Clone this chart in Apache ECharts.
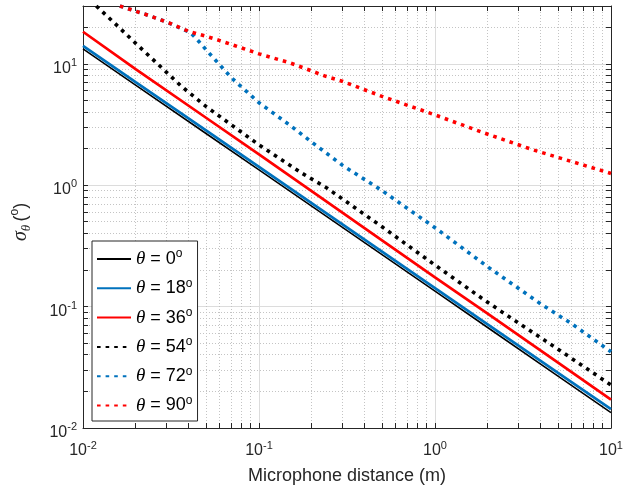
<!DOCTYPE html>
<html><head><meta charset="utf-8">
<script src="https://cdn.jsdelivr.net/npm/echarts@6/dist/echarts.min.js"></script>
<style>html,body{margin:0;padding:0;background:#fff}#c{width:623px;height:489px}</style>
</head><body><div id="c"></div>
<script>
// ---- data ----
const dist = [0.01, 0.02, 0.05, 0.1, 0.2, 0.5, 1, 2, 5, 10];
const sigma0 = [13.3, 6.65, 2.67, 1.34, 0.67, 0.268, 0.134, 0.067, 0.0268, 0.0134];
const sigma18 = [14.1, 7.05, 2.83, 1.42, 0.71, 0.284, 0.142, 0.071, 0.0284, 0.0143];
const sigma36 = [18.4, 9.0, 3.6, 1.8, 0.89, 0.352, 0.174, 0.087, 0.0346, 0.0171];
const dist54 = [0.0119, 0.015, 0.02, 0.0364, 0.05, 0.1, 0.175, 0.243, 0.5, 1, 2, 5, 10];
const sigma54 = [30, 21.9, 14.7, 6.5, 4.46, 2.15, 1.26, 0.95, 0.455, 0.22, 0.108, 0.0446, 0.0226];
const dist72 = [0.0162, 0.023, 0.03, 0.041, 0.045, 0.05, 0.07, 0.1, 0.15, 0.2, 0.3, 0.5, 0.7, 1, 2, 4, 6, 10];
const sigma72 = [30, 25.4, 22.1, 18.0, 15.6, 13.1, 7.64, 4.79, 3.12, 2.26, 1.45, 0.905, 0.641, 0.447, 0.212, 0.105, 0.072, 0.0425];
const dist90 = [0.0162, 0.023, 0.031, 0.04, 0.05, 0.063, 0.1, 0.15, 0.24, 0.3, 0.5, 1, 1.9, 3.6, 10];
const sigma90 = [30, 25.4, 21.7, 18.5, 16.9, 15.2, 12.1, 10.2, 7.9, 7.16, 5.4, 3.8, 2.7, 1.96, 1.25];
const thetaDeg = [0, 18, 36, 54, 72, 90];
const xRange = [0.01, 10];
const yRange = [0.01, 30];
const xDecades = [0.01, 0.1, 1];
const yDecades = [0.01, 0.1, 1, 10];

// ---- styling ----
const AX = '#262626';
const BLUE = '#0072BD', RED = '#FF0000', BLACK = '#000000';
const SANS = '"Liberation Sans", Arial, Helvetica, sans-serif';
const SERIF = '"Liberation Serif", "Times New Roman", serif';

function pow10(v) {
  const e = Math.round(Math.log10(v));
  if (Math.abs(Math.log10(v) - e) > 1e-6) return '';
  return '{b|10}{e|' + e + '}';
}
const tickRich = {
  b: {fontFamily: SANS, fontSize: 16, color: AX, lineHeight: 22},
  e: {fontFamily: SANS, fontSize: 11, color: AX, lineHeight: 13, verticalAlign: 'top'}
};

const xMinor = [];
xDecades.forEach(d => { for (let k = 2; k <= 9; k++) xMinor.push(k * d); });
const yMinor = [];
yDecades.forEach(d => { for (let k = 2; k <= 9; k++) if (k * d < yRange[1]) yMinor.push(k * d); });

function snap(p) { return Math.round(p - 0.5) + 0.5; }
function minorX(params, api) {
  const cs = params.coordSys;
  const px = snap(api.coord([api.value(0), 1])[0]);
  const y0 = cs.y, y1 = cs.y + cs.height;
  return {type: 'group', children: [
    {type: 'line', shape: {x1: px, y1: y0, x2: px, y2: y1}, style: {stroke: '#c4c4c4', lineWidth: 1, lineDash: [1, 2]}},
    {type: 'line', shape: {x1: px, y1: y1, x2: px, y2: y1 - 5}, style: {stroke: AX, lineWidth: 1}},
    {type: 'line', shape: {x1: px, y1: y0, x2: px, y2: y0 + 5}, style: {stroke: AX, lineWidth: 1}}
  ]};
}
function minorY(params, api) {
  const cs = params.coordSys;
  const py = snap(api.coord([1, api.value(1)])[1]);
  const x0 = cs.x, x1 = cs.x + cs.width;
  return {type: 'group', children: [
    {type: 'line', shape: {x1: x0, y1: py, x2: x1, y2: py}, style: {stroke: '#c4c4c4', lineWidth: 1, lineDash: [1, 2]}},
    {type: 'line', shape: {x1: x0, y1: py, x2: x0 + 5, y2: py}, style: {stroke: AX, lineWidth: 1}},
    {type: 'line', shape: {x1: x1, y1: py, x2: x1 - 5, y2: py}, style: {stroke: AX, lineWidth: 1}}
  ]};
}

const names = thetaDeg.map(d => 'θ = ' + d + '°');
const curves = [
  {x: dist, y: sigma0, color: BLACK, width: 1.6, dotted: false},
  {x: dist, y: sigma18, color: BLUE, width: 2.7, dotted: false},
  {x: dist, y: sigma36, color: RED, width: 2.7, dotted: false},
  {x: dist54, y: sigma54, color: BLACK, width: 3.6, dotted: true},
  {x: dist72, y: sigma72, color: BLUE, width: 3.6, dotted: true},
  {x: dist90, y: sigma90, color: RED, width: 3.6, dotted: true}
];

const lineSeries = curves.map((c, i) => ({
  type: 'line', name: names[i], symbol: 'none', smooth: false, z: 3,
  data: c.x.map((x, j) => [x, c.y[j]]),
  lineStyle: {color: c.color, width: c.width, type: c.dotted ? [3.6, 5.0] : 'solid', cap: 'butt'},
  itemStyle: {color: c.color},
  clip: true
}));

function axisCommon(pos, range, showLabel) {
  return {
    type: 'log', logBase: 10, min: range[0], max: range[1], position: pos,
    axisLine: {show: true, onZero: false, lineStyle: {color: AX, width: 1}},
    axisTick: {show: true, inside: true, length: 5, lineStyle: {color: AX, width: 1}},
    axisLabel: {show: showLabel, formatter: pow10, rich: tickRich, color: AX},
    splitLine: {show: showLabel, lineStyle: {color: '#dcdcdc', width: 1}},
    minorTick: {show: false}, minorSplitLine: {show: false}
  };
}

const xBottom = axisCommon('bottom', xRange, true);
xBottom.axisLabel.margin = 12;
xBottom.name = 'Microphone distance (m)';
xBottom.nameLocation = 'middle';
xBottom.nameGap = 39;
xBottom.nameTextStyle = {fontFamily: SANS, fontSize: 18, color: AX};
const xTop = axisCommon('top', xRange, false);

const yLeft = axisCommon('left', yRange, true);
yLeft.axisLabel.margin = 6;
yLeft.axisLabel.padding = [9, 0, 0, 0];
yLeft.name = '{s|σ}{t|θ} {p|(}{o|o}{p|)}';
yLeft.nameLocation = 'middle';
yLeft.nameGap = 50;
yLeft.nameTextStyle = {
  padding: [0, 10, 0, 0],
  rich: {
    s: {fontFamily: SERIF, fontStyle: 'italic', fontSize: 20, color: AX, lineHeight: 24},
    t: {fontFamily: SERIF, fontStyle: 'italic', fontSize: 13, color: AX, lineHeight: 13, verticalAlign: 'bottom'},
    p: {fontFamily: SANS, fontSize: 18, color: AX, lineHeight: 24},
    o: {fontFamily: SANS, fontSize: 12, color: AX, lineHeight: 12, verticalAlign: 'top'}
  }
};
const yRight = axisCommon('right', yRange, false);

const option = {
  animation: false,
  backgroundColor: '#ffffff',
  grid: {left: 83, right: 12, top: 6, bottom: 61, containLabel: false, outerBoundsMode: 'none'},
  xAxis: [xBottom, xTop],
  yAxis: [yLeft, yRight],
  legend: {
    orient: 'vertical', left: 92, top: 241,
    padding: [7, 5, 6, 4], itemGap: 8.8, itemWidth: 34, itemHeight: 14,
    backgroundColor: '#ffffff', borderColor: AX, borderWidth: 1, borderRadius: 0,
    data: names, selectedMode: false,
    itemStyle: {opacity: 0},
    formatter: n => '{t|θ}{n| = ' + n.match(/\d+/)[0] + '}{s|o}',
    textStyle: {
      rich: {
        t: {fontFamily: SERIF, fontStyle: 'italic', fontSize: 19, color: '#000', lineHeight: 22},
        n: {fontFamily: SANS, fontSize: 18, color: '#000', lineHeight: 22},
        s: {fontFamily: SANS, fontSize: 12, color: '#000', lineHeight: 12, verticalAlign: 'top'}
      }
    }
  },
  series: [
    {type: 'custom', silent: true, z: 1, clip: false, renderItem: minorX, data: xMinor.map(v => [v, 1])},
    {type: 'custom', silent: true, z: 1, clip: false, renderItem: minorY, data: yMinor.map(v => [1, v])}
  ].concat(lineSeries)
};

const chart = echarts.init(document.getElementById('c'), null, {renderer: 'canvas'});
chart.setOption(option);
</script>
</body></html>
